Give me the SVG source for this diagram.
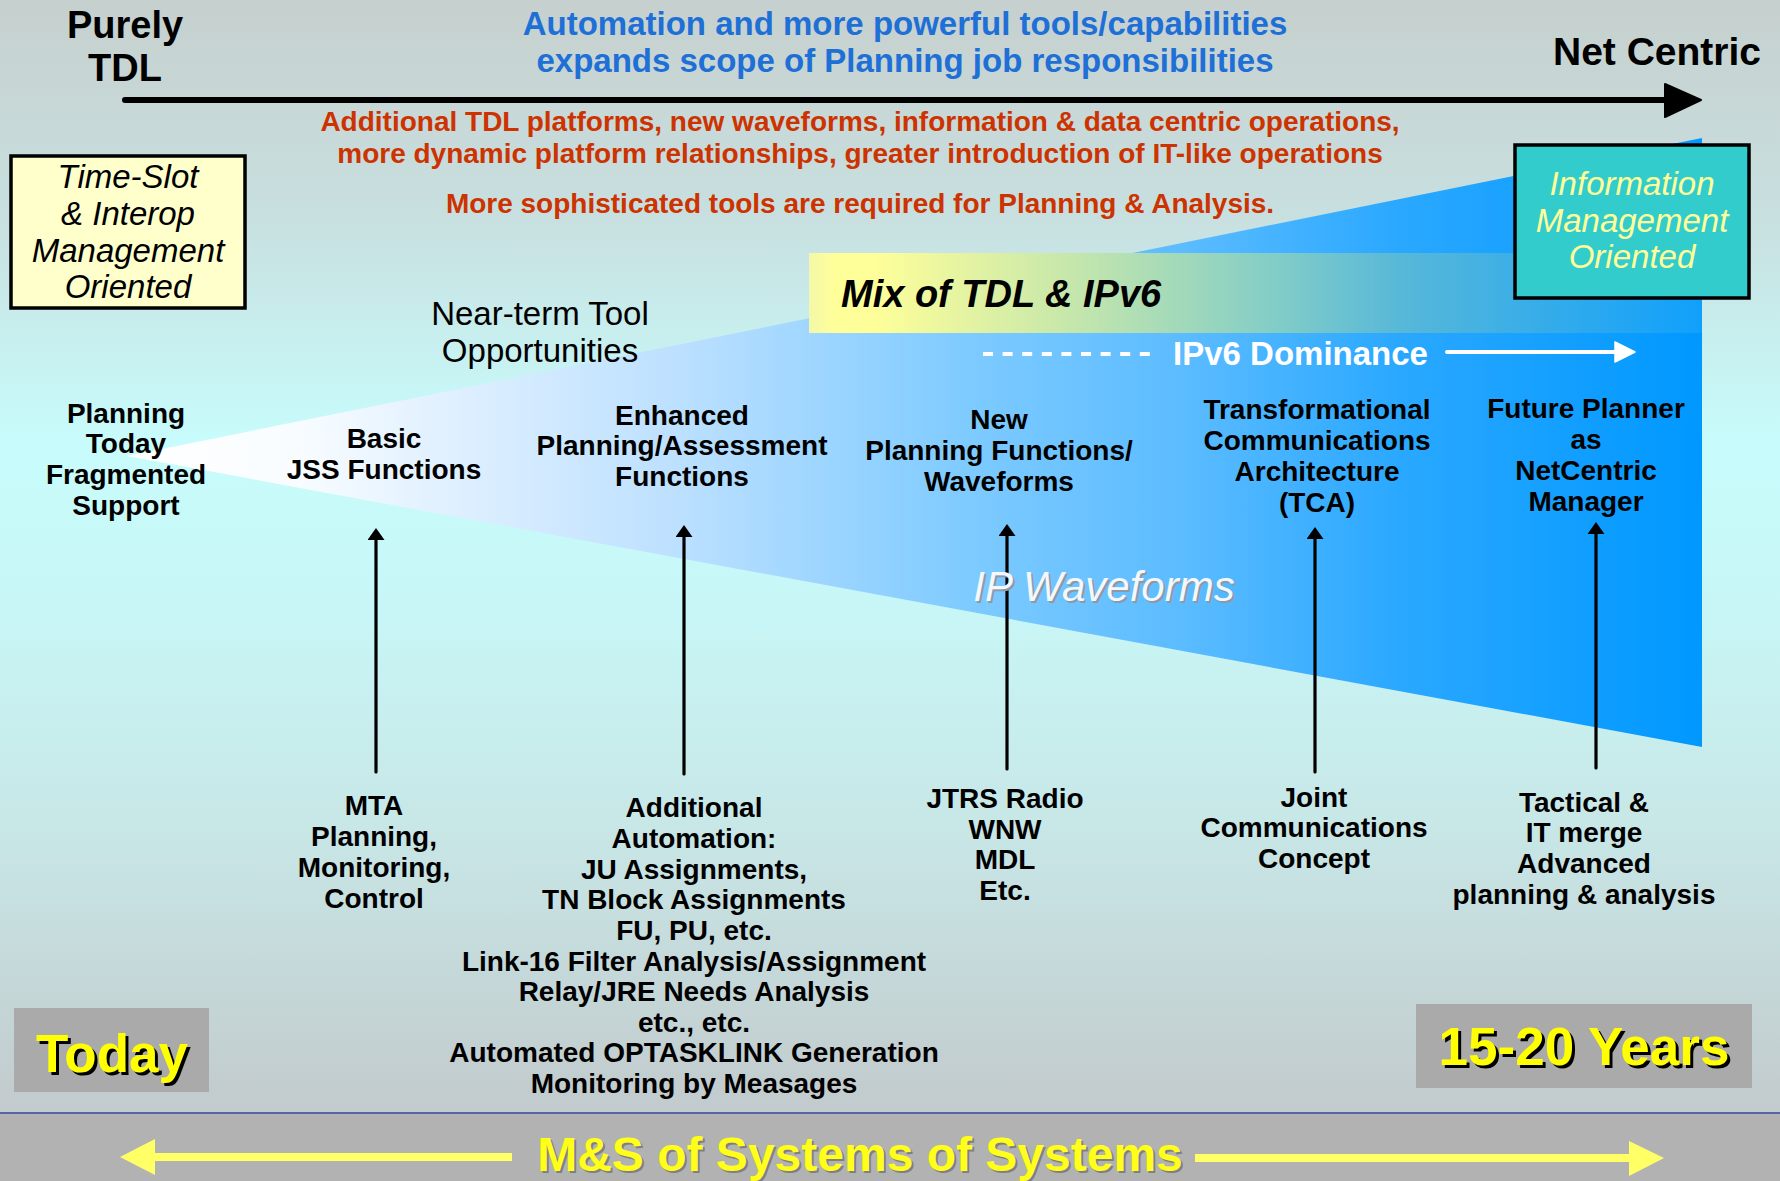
<svg xmlns="http://www.w3.org/2000/svg" width="1780" height="1181" viewBox="0 0 1780 1181">
  <defs>
    <linearGradient id="bg" x1="0" y1="0" x2="0" y2="1113" gradientUnits="userSpaceOnUse">
      <stop offset="0" stop-color="#c6d0ce"/>
      <stop offset="0.2" stop-color="#c8e0e0"/>
      <stop offset="0.4" stop-color="#c8fcfc"/>
      <stop offset="0.55" stop-color="#c8f6f6"/>
      <stop offset="0.75" stop-color="#c8e6e6"/>
      <stop offset="1" stop-color="#c2cacc"/>
    </linearGradient>
    <linearGradient id="wedgeFill" x1="127" y1="0" x2="1702" y2="0" gradientUnits="userSpaceOnUse">
      <stop offset="0" stop-color="#ffffff"/>
      <stop offset="0.11" stop-color="#f8fcff"/>
      <stop offset="0.186" stop-color="#e4f2ff"/>
      <stop offset="0.35" stop-color="#bce0ff"/>
      <stop offset="0.54" stop-color="#7ccaff"/>
      <stop offset="0.668" stop-color="#5cbcff"/>
      <stop offset="0.808" stop-color="#2aa8ff"/>
      <stop offset="1" stop-color="#0098ff"/>
    </linearGradient>
    <linearGradient id="mixFill" x1="809" y1="0" x2="1702" y2="0" gradientUnits="userSpaceOnUse">
      <stop offset="0" stop-color="#f4f8a8"/>
      <stop offset="0.03" stop-color="#ffff99"/>
      <stop offset="0.07" stop-color="#ffff99"/>
      <stop offset="0.3" stop-color="#c4e6ac"/>
      <stop offset="0.53" stop-color="#80ccc8"/>
      <stop offset="0.66" stop-color="#58b8d8"/>
      <stop offset="1" stop-color="#10a0fc"/>
    </linearGradient>
    <marker id="upHead" viewBox="0 0 12 17" markerWidth="12" markerHeight="17" refX="2" refY="8.5" orient="auto" markerUnits="userSpaceOnUse">
      <path d="M0,0 L12,8.5 L0,17 Z" fill="#000"/>
    </marker>
    <style>
      text { font-family: "Liberation Sans", Arial, sans-serif; }
      .lbl { font-size: 28px; font-weight: bold; fill: #000; text-anchor: middle; }
      .red { font-size: 28px; font-weight: bold; fill: #cc3300; text-anchor: middle; }
      .blue { font-size: 33px; font-weight: bold; fill: #1e6fd6; text-anchor: middle; }
      .end { font-size: 38px; font-weight: bold; fill: #000; text-anchor: middle; }
      .boxtxt { font-size: 33px; font-style: italic; text-anchor: middle; }
      .era { font-size: 53px; font-weight: bold; text-anchor: middle; }
      .vline { stroke: #000; stroke-width: 3.2; stroke-linecap: round; fill: none; marker-end: url(#upHead); }
    </style>
  </defs>

  <!-- background -->
  <rect x="0" y="0" width="1780" height="1113" fill="url(#bg)"/>
  <rect x="0" y="1113" width="1780" height="68" fill="#b2b2b2"/>
  <line x1="0" y1="1113" x2="1780" y2="1113" stroke="#5563a8" stroke-width="2"/>

  <!-- widening capability wedge and mixed band -->
  <polygon id="wedge" points="127,456 1702,138 1702,747" fill="url(#wedgeFill)"/>
  <rect id="mix-band" x="809" y="253" width="893" height="80" fill="url(#mixFill)"/>

  <!-- connectors -->
  <g id="connectors">
    <line x1="125" y1="100" x2="1668" y2="100" stroke="#000" stroke-width="6" stroke-linecap="round"/>
    <polygon points="1665,84 1701,100 1665,117" fill="#000" stroke="#000" stroke-width="2" stroke-linejoin="round"/>

    <line x1="983" y1="354" x2="1151" y2="354" stroke="#fff" stroke-width="4" stroke-dasharray="10 9.6"/>
    <line x1="1447" y1="352" x2="1617" y2="352" stroke="#fff" stroke-width="4" stroke-linecap="round"/>
    <polygon points="1615,342 1635,352 1615,362" fill="#fff" stroke="#fff" stroke-width="1.5" stroke-linejoin="round"/>

    <line class="vline" x1="376" y1="772" x2="376" y2="538"/>
    <line class="vline" x1="684" y1="774" x2="684" y2="535"/>
    <line class="vline" x1="1007" y1="769" x2="1007" y2="534"/>
    <line class="vline" x1="1315" y1="772" x2="1315" y2="537"/>
    <line class="vline" x1="1596" y1="768" x2="1596" y2="532"/>

    <line x1="152" y1="1157" x2="512" y2="1157" stroke="#ffff66" stroke-width="8"/>
    <polygon points="155,1139 120,1157 155,1175" fill="#ffff66"/>
    <line x1="1195" y1="1158" x2="1631" y2="1158" stroke="#ffff66" stroke-width="8"/>
    <polygon points="1629,1141 1664,1158 1629,1176" fill="#ffff66"/>
  </g>

  <!-- axis ends -->
  <g id="purely-tdl">
    <text class="end" x="125" y="38">Purely</text>
    <text class="end" x="125" y="81">TDL</text>
  </g>
  <g id="net-centric">
    <text class="end" x="1657" y="65" style="font-size:39px">Net Centric</text>
  </g>

  <!-- headline notes -->
  <g id="scope-note">
    <text class="blue" x="905" y="35">Automation and more powerful tools/capabilities</text>
    <text class="blue" x="905" y="72">expands scope of Planning job responsibilities</text>
  </g>
  <g id="growth-note">
    <text class="red" x="860" y="131">Additional TDL platforms, new waveforms, information &amp; data centric operations,</text>
    <text class="red" x="860" y="163">more dynamic platform relationships, greater introduction of IT-like operations</text>
    <text class="red" x="860" y="213">More sophisticated tools are required for Planning &amp; Analysis.</text>
  </g>

  <!-- orientation boxes -->
  <g id="time-slot-box">
    <rect x="11" y="156" width="234" height="152" fill="#ffffcc" stroke="#000" stroke-width="3.5"/>
    <text class="boxtxt" x="128" y="188" fill="#000">Time-Slot</text>
    <text class="boxtxt" x="128" y="225" fill="#000">&amp; Interop</text>
    <text class="boxtxt" x="128" y="262" fill="#000">Management</text>
    <text class="boxtxt" x="128" y="298" fill="#000">Oriented</text>
  </g>
  <g id="info-mgmt-box">
    <rect x="1515" y="145" width="234" height="153" fill="#33cccc" stroke="#000" stroke-width="3.5"/>
    <text class="boxtxt" x="1632" y="195" fill="#ffff99">Information</text>
    <text class="boxtxt" x="1632" y="232" fill="#ffff99">Management</text>
    <text class="boxtxt" x="1632" y="268" fill="#ffff99">Oriented</text>
  </g>

  <g id="mix-label">
    <text x="841" y="307" style="font-size:38px;font-weight:bold;font-style:italic" fill="#000">Mix of TDL &amp; IPv6</text>
  </g>
  <g id="near-term">
    <text x="540" y="325" style="font-size:33px;text-anchor:middle" fill="#000">Near-term Tool</text>
    <text x="540" y="362" style="font-size:33px;text-anchor:middle" fill="#000">Opportunities</text>
  </g>
  <g id="ipv6-dominance">
    <text x="1173" y="365" style="font-size:33px;font-weight:bold" fill="#fff">IPv6 Dominance</text>
  </g>
  <g id="ip-waveforms">
    <text x="1106" y="603" style="font-size:42px;font-style:italic;text-anchor:middle" fill="#8a9aa8">IP Waveforms</text>
    <text x="1104" y="601" style="font-size:42px;font-style:italic;text-anchor:middle" fill="#f4f8fc">IP Waveforms</text>
  </g>

  <!-- stages -->
  <g id="stage-today">
    <text class="lbl" x="126" y="423">Planning</text>
    <text class="lbl" x="126" y="453">Today</text>
    <text class="lbl" x="126" y="484">Fragmented</text>
    <text class="lbl" x="126" y="515">Support</text>
  </g>
  <g id="stage-basic">
    <text class="lbl" x="384" y="448">Basic</text>
    <text class="lbl" x="384" y="479">JSS Functions</text>
  </g>
  <g id="stage-enhanced">
    <text class="lbl" x="682" y="425">Enhanced</text>
    <text class="lbl" x="682" y="455">Planning/Assessment</text>
    <text class="lbl" x="682" y="486">Functions</text>
  </g>
  <g id="stage-new">
    <text class="lbl" x="999" y="429">New</text>
    <text class="lbl" x="999" y="460">Planning Functions/</text>
    <text class="lbl" x="999" y="491">Waveforms</text>
  </g>
  <g id="stage-tca">
    <text class="lbl" x="1317" y="419">Transformational</text>
    <text class="lbl" x="1317" y="450">Communications</text>
    <text class="lbl" x="1317" y="481">Architecture</text>
    <text class="lbl" x="1317" y="512">(TCA)</text>
  </g>
  <g id="stage-future">
    <text class="lbl" x="1586" y="418">Future Planner</text>
    <text class="lbl" x="1586" y="449">as</text>
    <text class="lbl" x="1586" y="480">NetCentric</text>
    <text class="lbl" x="1586" y="511">Manager</text>
  </g>

  <!-- enablers -->
  <g id="enabler-mta">
    <text class="lbl" x="374" y="815">MTA</text>
    <text class="lbl" x="374" y="846">Planning,</text>
    <text class="lbl" x="374" y="877">Monitoring,</text>
    <text class="lbl" x="374" y="908">Control</text>
  </g>
  <g id="enabler-automation">
    <text class="lbl" x="694" y="817">Additional</text>
    <text class="lbl" x="694" y="848">Automation:</text>
    <text class="lbl" x="694" y="879">JU Assignments,</text>
    <text class="lbl" x="694" y="909">TN Block Assignments</text>
    <text class="lbl" x="694" y="940">FU, PU, etc.</text>
    <text class="lbl" x="694" y="971">Link-16 Filter Analysis/Assignment</text>
    <text class="lbl" x="694" y="1001">Relay/JRE Needs Analysis</text>
    <text class="lbl" x="694" y="1032">etc., etc.</text>
    <text class="lbl" x="694" y="1062">Automated OPTASKLINK Generation</text>
    <text class="lbl" x="694" y="1093">Monitoring by Measages</text>
  </g>
  <g id="enabler-jtrs">
    <text class="lbl" x="1005" y="808">JTRS Radio</text>
    <text class="lbl" x="1005" y="839">WNW</text>
    <text class="lbl" x="1005" y="869">MDL</text>
    <text class="lbl" x="1005" y="900">Etc.</text>
  </g>
  <g id="enabler-jcc">
    <text class="lbl" x="1314" y="807">Joint</text>
    <text class="lbl" x="1314" y="837">Communications</text>
    <text class="lbl" x="1314" y="868">Concept</text>
  </g>
  <g id="enabler-merge">
    <text class="lbl" x="1584" y="812">Tactical &amp;</text>
    <text class="lbl" x="1584" y="842">IT merge</text>
    <text class="lbl" x="1584" y="873">Advanced</text>
    <text class="lbl" x="1584" y="904">planning &amp; analysis</text>
  </g>

  <!-- time markers -->
  <g id="today-box">
    <rect x="14" y="1008" width="195" height="84" fill="#aaaaaa"/>
    <text class="era" x="115" y="1075" fill="#000">Today</text>
    <text class="era" x="112" y="1072" fill="#ffff00">Today</text>
  </g>
  <g id="years-box">
    <rect x="1416" y="1004" width="336" height="84" fill="#aaaaaa"/>
    <text class="era" x="1587" y="1068" fill="#000">15-20 Years</text>
    <text class="era" x="1584" y="1065" fill="#ffff00">15-20 Years</text>
  </g>

  <g id="ms-banner">
    <text x="862" y="1173" style="font-size:48px;font-weight:bold;text-anchor:middle" fill="#808080">M&amp;S of Systems of Systems</text>
    <text x="860" y="1171" style="font-size:48px;font-weight:bold;text-anchor:middle" fill="#ffff1a">M&amp;S of Systems of Systems</text>
  </g>
</svg>
